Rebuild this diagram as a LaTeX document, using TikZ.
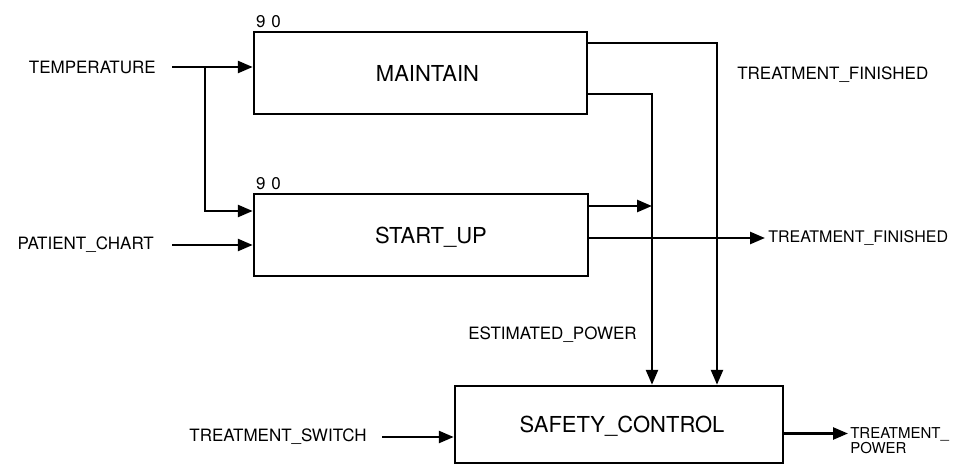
\documentclass[tikz,border=0pt]{standalone}
\usepackage{fontspec}
\setmainfont{TeX Gyre Heros}
\usepackage{tikz}
\usetikzlibrary{arrows.meta,positioning}
\newcommand{\lblfont}{\fontsize{17}{19}\selectfont}
\newcommand{\blkfont}{\fontsize{22}{24}\selectfont}

\begin{document}
\begin{tikzpicture}[x=1pt,y=-1pt,line width=2.5pt,
    blk/.style={draw,rectangle,line width=2.5pt,font=\blkfont,text depth=0pt},
    txt/.style={font=\lblfont,inner sep=2pt},
    num/.style={font=\fontsize{17}{17}\selectfont,inner sep=1pt},
    flow/.style={-{Triangle[length=15pt,width=12pt]}}]
        \useasboundingbox (0,0) rectangle (962,466);
        % blocks
        \node[blk,minimum width=333pt,minimum height=82pt] (mt) at (420.5,73) {\hspace{14pt}MAINTAIN};
        \node[blk,minimum width=334pt,minimum height=82pt] (su) at (421,235) {\hspace{20pt}START\_UP};
        \node[blk,minimum width=328pt,minimum height=77pt] (sc) at (619,424.5) {\hspace{6pt}SAFETY\_CONTROL};
        \node[num,above right=1pt and 1pt of mt.north west] (mtn) {9\hspace{6pt}0};
        \node[num,above right=1pt and 1pt of su.north west] (sun) {9\hspace{6pt}0};
        % flow names
        \node[txt,anchor=east] (tmp) at (159,67) {TEMPERATURE};
        \node[txt,anchor=east] (pc) at (157,245) {PATIENT\_CHART};
        \node[txt,anchor=east] (ts) at (370,437) {TREATMENT\_SWITCH};
        \node[txt,anchor=east] (ep) at (640,335) {ESTIMATED\_POWER};
        \node[txt,anchor=west] (tf) at (734,75) {TREATMENT\_FINISHED};
        \node[txt,anchor=west,font=\fontsize{16}{18}\selectfont] (tf2) at (765,238) {TREATMENT\_FINISHED};
        \node[anchor=north west,align=left,inner sep=1pt,font=\fontsize{15}{13}\selectfont] (tp) at (848,425) {TREATMENT\_\\POWER};
        \coordinate (sp) at (205,67);
        \coordinate (ba) at (652,0);
        \coordinate (bb) at (717,0);
        % connectors
        \draw[flow,shorten <=13pt] (tmp.east) -- (tmp.east -| mt.west);
        \draw[flow] (sp) |- ([yshift=24pt]su.west);
        \draw[flow,shorten <=15pt] (pc.east) -- (pc.east -| su.west);
        \draw[flow] ([yshift=30pt]mt.east) -| (bb |- sc.north);
        \draw[flow] ([yshift=-21pt]mt.east) -| (ba |- sc.north);
        \draw[flow] ([yshift=29pt]su.east) coordinate (s1) -- (s1 -| ba);
        \draw[flow] ([yshift=-3pt]su.east) -- (tf2.west);
        \draw[flow,shorten <=12pt] (ts.east) -- (ts.east -| sc.west);
        \draw[flow] ([yshift=-9pt]sc.east) coordinate (so) -- (so -| tp.west);
      \end{tikzpicture}
\end{document}
